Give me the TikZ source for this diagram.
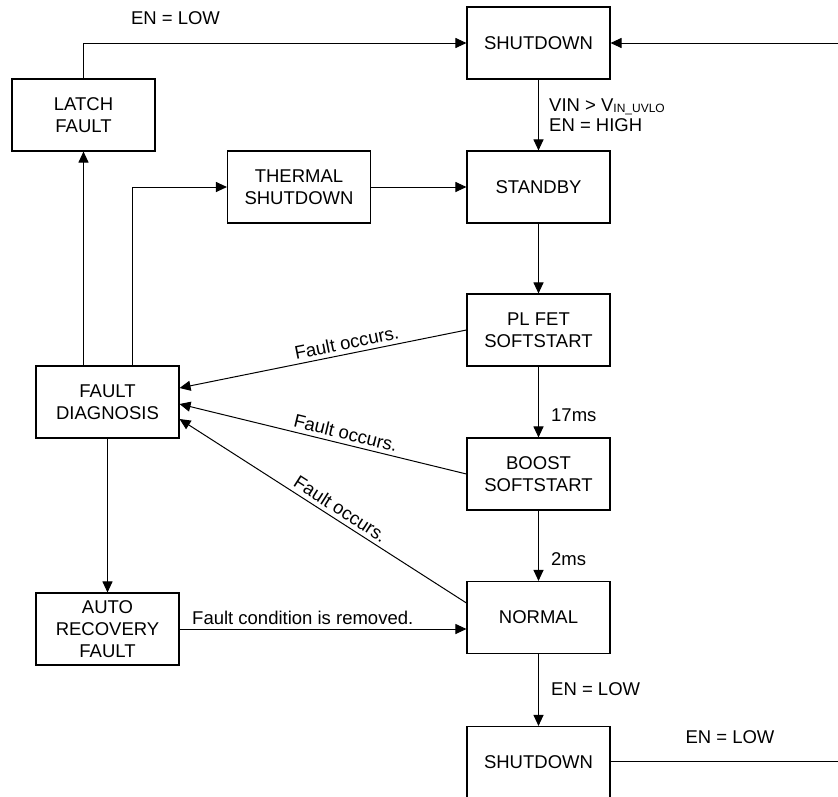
\documentclass[tikz,border=0pt]{standalone}
\usepackage{fontspec}
\setmainfont{Liberation Sans}
\usetikzlibrary{arrows.meta,calc}
\begin{document}
\begin{tikzpicture}[x=1pt,y=-1pt,
  box/.style={draw, line width=1.1pt, minimum width=143pt, minimum height=72pt, inner sep=0pt, align=center, font=\fontsize{18.5}{21.7}\selectfont},
  lbl/.style={font=\fontsize{18.5}{20}\selectfont, inner sep=0pt},
  flbl/.style={font=\fontsize{18.5}{20}\selectfont, sloped, above, inner sep=4pt},
  arr/.style={line width=1pt, -{Triangle[length=11pt,width=10pt]}},
  rarr/.style={line width=1pt, {Triangle[length=11pt,width=10pt]}-},
  ln/.style={line width=1pt}]
\useasboundingbox (0,0) rectangle (838,796);
% boxes
\node[box] (sd1) at (538.5,43) {SHUTDOWN};
\node[box] (stby) at (538.5,187) {STANDBY};
\node[box] (plfet) at (538.5,330) {PL FET\\SOFTSTART};
\node[box] (boost) at (538.5,474) {BOOST\\SOFTSTART};
\node[box] (norm) at (538.5,617.5) {NORMAL};
\node[box] (sd2) at (538.5,762.5) {SHUTDOWN};
\node[box] (latch) at (83.5,115) {LATCH\\FAULT};
\node[box] (therm) at (299,187) {THERMAL\\SHUTDOWN};
\node[box] (fd) at (107.5,402) {FAULT\\DIAGNOSIS};
\node[box] (auto) at (107.5,629) {AUTO\\RECOVERY\\FAULT};
\coordinate (rtop) at (838,43);
% connectors
\draw[arr] (latch.north) |- (sd1.west);
\draw[arr] (sd1) -- (stby);
\draw[arr] (stby) -- (plfet);
\draw[arr] (plfet) -- (boost);
\draw[arr] (boost) -- (norm);
\draw[arr] (norm) -- (sd2);
\draw[arr] (therm.east) -- (therm.east -| stby.west);
\draw[arr] (fd.north -| latch.south) -- (latch.south);
\draw[arr] ([xshift=24.5pt]fd.north) |- (therm.west);
\draw[arr] (fd) -- (auto);
\draw[arr] (auto.east) -- (auto.east -| norm.west);
\draw[arr] (rtop) -- (sd1.east);
\draw[ln] ([yshift=1pt]sd2.east) -- ([yshift=1pt]sd2.east -| rtop);
\draw[rarr] ([yshift=14pt]fd.east) -- node[flbl, pos=0.59] (f1) {Fault occurs.} (plfet.west);
\draw[rarr] ([yshift=-2pt]fd.east) -- node[flbl, pos=0.57] (f2) {Fault occurs.} (boost.west);
\draw[rarr] ([yshift=-17pt]fd.east) -- node[flbl, pos=0.54] (f3) {Fault occurs.} ([yshift=14.5pt]norm.west);
% labels
\node[lbl, anchor=west, align=left] (l1) at (549,115) {VIN > V\raisebox{-1.5pt}{\fontsize{12}{12}\selectfont IN\_UVLO}\\EN = HIGH};
\node[lbl, anchor=west] (l17) at (551,415) {17ms};
\node[lbl, anchor=west] (l2) at (551,559) {2ms};
\node[lbl, anchor=west] (l3) at (551,689) {EN = LOW};
\node[lbl] (l4) at (730,737) {EN = LOW};
\node[lbl] (l0) at (175.5,18) {EN = LOW};
\node[lbl, anchor=west] (l5) at (192,618) {Fault condition is removed.};
\end{tikzpicture}
\end{document}
